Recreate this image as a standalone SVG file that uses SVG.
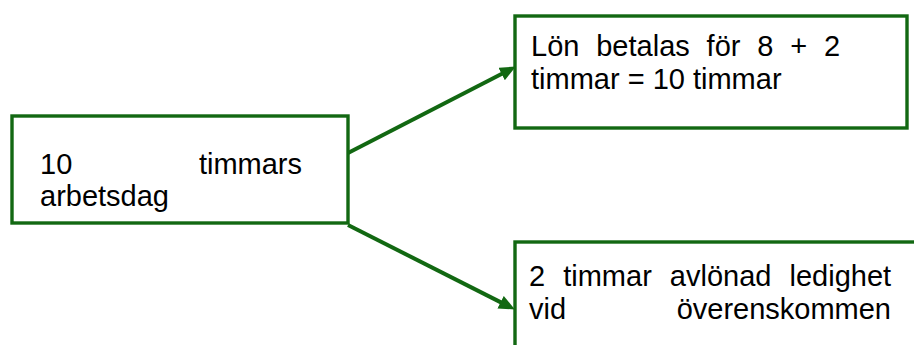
<svg xmlns="http://www.w3.org/2000/svg" width="914" height="345" viewBox="0 0 914 345">
<style>
.box{fill:#ffffff;stroke:#126812;stroke-width:3.4}
.t{font-family:"Liberation Sans",Arial,sans-serif;font-size:29px;fill:#000000}
.conn{stroke:#126812;stroke-width:4;fill:none}
</style>
<defs>
<marker id="ah" markerUnits="userSpaceOnUse" markerWidth="17" markerHeight="15" refX="2" refY="7" orient="auto">
<path d="M0,0 L16,7 L0,14 z" fill="#126812"/>
</marker>
</defs>
<rect width="914" height="345" fill="#ffffff"/>
<g id="connectors">
<line class="conn" x1="348" y1="153" x2="503.4" y2="73" marker-end="url(#ah)"/>
<line class="conn" x1="348" y1="225" x2="502.4" y2="303.1" marker-end="url(#ah)"/>
</g>
<g id="node-workday">
<rect class="box" x="12" y="116" width="336" height="107"/>
<text class="t" x="40" y="174">10</text>
<text class="t" x="302" y="174" text-anchor="end">timmars</text>
<text class="t" x="40" y="206">arbetsdag</text>
</g>
<g id="node-salary">
<rect class="box" x="515" y="16" width="392" height="112"/>
<text class="t" x="531" y="56" word-spacing="8.8">Lön betalas för 8 + 2</text>
<text class="t" x="531" y="89">timmar = 10 timmar</text>
</g>
<g id="node-leave">
<rect class="box" x="515" y="242" width="420" height="150"/>
<text class="t" x="529" y="286" word-spacing="10">2 timmar avlönad ledighet</text>
<text class="t" x="529" y="319">vid</text>
<text class="t" x="891" y="319" text-anchor="end">överenskommen</text>
</g>
</svg>
